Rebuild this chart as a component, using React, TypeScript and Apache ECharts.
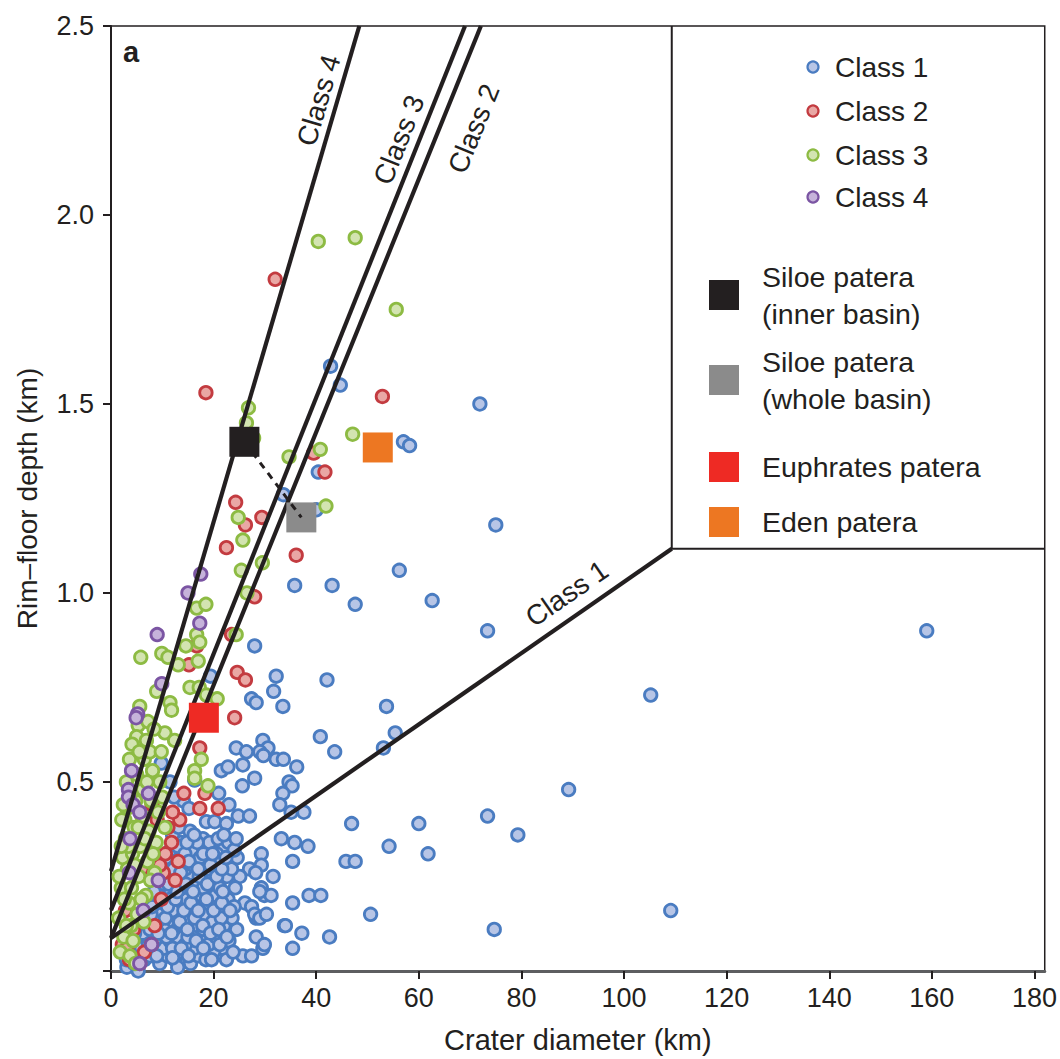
import React, { useEffect, useRef } from "react";
import * as echarts from "echarts";

const FONT = "'Liberation Sans', Arial, Helvetica, sans-serif";
const INK = "#231f20";

const xTicks = [0, 20, 40, 60, 80, 100, 120, 140, 160, 180];
const yTicks = [0, 0.5, 1.0, 1.5, 2.0, 2.5];

// Class 1 craters [diameter km, rim-floor depth km]
const class1: number[][] = [
  [159.0, 0.90], [105.2, 0.73], [109.1, 0.16], [89.2, 0.48], [79.3, 0.36], [73.4, 0.41], [74.7, 0.11],
  [71.9, 1.50], [75.0, 1.18], [57.0, 1.40], [58.2, 1.39], [56.2, 1.06], [62.6, 0.98], [73.4, 0.90],
  [60.0, 0.39], [61.8, 0.31], [54.2, 0.33], [50.6, 0.15], [53.7, 0.70], [55.4, 0.63], [53.1, 0.59],
  [47.6, 0.97], [43.1, 1.02], [42.8, 1.60], [44.7, 1.55], [40.4, 1.32], [42.1, 0.77], [43.6, 0.58],
  [40.8, 0.62], [46.9, 0.39], [45.8, 0.29], [47.6, 0.29], [42.6, 0.09], [35.8, 1.02], [33.6, 1.26],
  [40.0, 1.22], [28.0, 0.86], [19.4, 0.78], [32.2, 0.78], [31.7, 0.74], [27.4, 0.72], [28.3, 0.71],
  [33.5, 0.70], [24.4, 0.59], [26.4, 0.58], [29.6, 0.61], [30.6, 0.59], [29.0, 0.58], [29.7, 0.57],
  [32.2, 0.56], [33.6, 0.56], [36.2, 0.54], [21.5, 0.53], [22.8, 0.54], [25.7, 0.545], [16.3, 0.505],
  [14.1, 0.45], [15.2, 0.43], [18.6, 0.395], [20.2, 0.395], [22.5, 0.39], [24.8, 0.41], [27.0, 0.41],
  [15.4, 0.37], [17.9, 0.35], [13.7, 0.34], [15.7, 0.32], [19.2, 0.34], [20.9, 0.35], [21.8, 0.32],
  [20.6, 0.31], [33.2, 0.35], [35.8, 0.34], [35.4, 0.29], [29.3, 0.31], [31.6, 0.25], [27.0, 0.27],
  [25.1, 0.25], [29.3, 0.28], [28.2, 0.26], [29.3, 0.22], [29.9, 0.20], [26.1, 0.18], [27.4, 0.17],
  [31.2, 0.20], [33.8, 0.12], [35.4, 0.06], [29.6, 0.06], [28.3, 0.14], [25.7, 0.04], [21.8, 0.06],
  [21.2, 0.17], [19.2, 0.16], [17.9, 0.10], [34.7, 0.50], [35.3, 0.49], [33.5, 0.47], [32.9, 0.44],
  [35.1, 0.42], [37.6, 0.42], [38.4, 0.33], [35.4, 0.18], [38.6, 0.20], [40.9, 0.20], [28.0, 0.15],
  [29.0, 0.14], [30.3, 0.15], [34.0, 0.12], [37.2, 0.10], [28.3, 0.09], [29.9, 0.07], [27.4, 0.04],
  [29.0, 0.21], [28.0, 0.51], [25.6, 0.49], [23.0, 0.44], [21.0, 0.47], [9.8, 0.55], [11.5, 0.50],
  [12.3, 0.46],
  [3.1, 0.01], [5.3, 0.00], [3.0, 0.03], [4.5, 0.02], [6.5, 0.03], [8.0, 0.05], [9.5, 0.02], [11.0, 0.04],
  [12.5, 0.03], [14.0, 0.05], [15.5, 0.02], [17.0, 0.04], [18.5, 0.03], [20.0, 0.05], [22.5, 0.03],
  [13.0, 0.01], [10.2, 0.06], [16.2, 0.06], [4.0, 0.08], [5.5, 0.07], [7.0, 0.09], [8.5, 0.08],
  [10.0, 0.10], [11.5, 0.08], [13.0, 0.09], [14.5, 0.07], [16.0, 0.10], [17.5, 0.08], [19.0, 0.07],
  [20.5, 0.09], [23.0, 0.08], [24.5, 0.11], [6.2, 0.10], [12.2, 0.11], [5.0, 0.12], [6.8, 0.14],
  [8.2, 0.12], [9.6, 0.15], [11.0, 0.13], [12.6, 0.15], [14.0, 0.12], [15.4, 0.14], [16.8, 0.12],
  [18.2, 0.15], [19.8, 0.13], [22.0, 0.12], [23.6, 0.14], [10.4, 0.11], [13.5, 0.17], [7.4, 0.17],
  [8.8, 0.19], [10.2, 0.18], [11.8, 0.20], [13.2, 0.18], [14.8, 0.19], [16.2, 0.17], [17.6, 0.20],
  [19.0, 0.18], [20.4, 0.20], [22.8, 0.19], [24.0, 0.17], [12.0, 0.16], [15.8, 0.22], [9.0, 0.23],
  [10.6, 0.22], [12.2, 0.24], [13.8, 0.22], [15.2, 0.25], [16.6, 0.23], [18.0, 0.22], [19.6, 0.24],
  [21.2, 0.22], [22.6, 0.25], [11.5, 0.26], [14.5, 0.27], [10.0, 0.28], [12.8, 0.29], [16.0, 0.28],
  [17.4, 0.30], [18.8, 0.27], [20.2, 0.29], [23.5, 0.27], [24.6, 0.30], [11.6, 0.32], [13.0, 0.33],
  [14.4, 0.31], [16.8, 0.34], [22.9, 0.34], [24.0, 0.32], [7.6, 0.04], [9.0, 0.13], [6.0, 0.05],
  [21.5, 0.14], [18.0, 0.11], [15.0, 0.09], [12.0, 0.06], [7.8, 0.15],
  [4.2, 0.04], [5.9, 0.06], [7.3, 0.07], [8.9, 0.04], [10.8, 0.09], [12.0, 0.035], [13.7, 0.06],
  [15.1, 0.04], [16.6, 0.08], [18.0, 0.06], [19.6, 0.03], [21.2, 0.07], [23.8, 0.05], [4.6, 0.10],
  [6.0, 0.13], [7.6, 0.11], [9.2, 0.10], [10.6, 0.14], [11.8, 0.10], [13.4, 0.13], [14.9, 0.11],
  [16.3, 0.14], [17.9, 0.12], [19.4, 0.10], [21.0, 0.11], [22.6, 0.09], [6.4, 0.16], [8.0, 0.17],
  [9.4, 0.20], [11.0, 0.17], [12.6, 0.19], [14.2, 0.16], [15.6, 0.18], [17.0, 0.16], [18.6, 0.19],
  [20.0, 0.16], [21.6, 0.18], [23.2, 0.16], [8.4, 0.21], [9.8, 0.25], [11.2, 0.23], [12.9, 0.21],
  [14.6, 0.23], [16.0, 0.21], [17.2, 0.25], [18.8, 0.23], [20.6, 0.25], [21.8, 0.21], [24.2, 0.22],
  [10.8, 0.30], [12.2, 0.27], [13.6, 0.26], [15.2, 0.29], [17.0, 0.27], [19.4, 0.28], [21.6, 0.27],
  [22.4, 0.30], [12.0, 0.36], [13.2, 0.38], [14.8, 0.34], [16.2, 0.36], [18.0, 0.31], [19.8, 0.31],
  [22.0, 0.36], [24.4, 0.35],
];

const class2: number[][] = [
  [32.0, 1.83], [18.5, 1.53], [52.9, 1.52], [39.5, 1.37], [41.7, 1.32], [24.3, 1.24], [29.4, 1.20],
  [26.2, 1.18], [22.5, 1.12], [36.1, 1.10], [28.0, 0.99], [16.7, 0.86], [15.2, 0.81], [23.5, 0.89],
  [24.6, 0.79], [26.2, 0.77], [24.1, 0.67], [17.3, 0.59], [18.3, 0.47], [17.3, 0.43], [20.9, 0.43],
  [13.4, 0.40], [11.1, 0.38], [10.2, 0.26], [9.5, 0.28], [13.1, 0.29], [9.2, 0.24],
  [2.2, 0.07], [3.1, 0.06], [3.6, 0.03], [4.4, 0.11], [5.6, 0.02], [6.5, 0.05], [7.9, 0.07], [8.5, 0.12],
  [2.8, 0.16], [9.8, 0.19], [10.6, 0.31], [11.8, 0.34], [12.5, 0.24], [7.0, 0.35], [8.0, 0.44],
  [9.0, 0.40], [12.0, 0.42], [14.2, 0.47], [6.0, 0.27],
];

const class3: number[][] = [
  [40.4, 1.93], [47.6, 1.94], [55.6, 1.75], [26.8, 1.49], [26.4, 1.45], [27.8, 1.41], [47.1, 1.42],
  [34.7, 1.36], [40.8, 1.38], [41.9, 1.23], [24.8, 1.20], [25.7, 1.14], [29.5, 1.08], [25.4, 1.06],
  [26.5, 1.00], [16.7, 0.96], [18.5, 0.97], [16.7, 0.89], [5.8, 0.83], [9.9, 0.84], [11.1, 0.83],
  [14.6, 0.86], [17.3, 0.87], [13.1, 0.81], [17.0, 0.82], [24.4, 0.89], [8.9, 0.74], [15.4, 0.75],
  [17.2, 0.75], [18.6, 0.73], [20.7, 0.72], [11.5, 0.71], [11.8, 0.69], [5.3, 0.65], [5.0, 0.62],
  [10.5, 0.63], [6.9, 0.61], [12.4, 0.61], [17.6, 0.56], [16.3, 0.53], [16.3, 0.51], [18.9, 0.49],
  [3.1, 0.43], [2.7, 0.40],
  [1.5, 0.14], [2.0, 0.22], [2.3, 0.30], [2.8, 0.35], [3.2, 0.27], [3.5, 0.18], [3.9, 0.12], [4.2, 0.31],
  [4.5, 0.38], [4.8, 0.45], [5.0, 0.52], [5.4, 0.25], [5.7, 0.33], [6.0, 0.41], [6.2, 0.48], [6.5, 0.56],
  [6.8, 0.20], [7.1, 0.29], [7.4, 0.37], [7.8, 0.45], [8.1, 0.53], [8.5, 0.26], [8.8, 0.34], [9.2, 0.42],
  [9.5, 0.50], [3.0, 0.50], [3.6, 0.56], [4.1, 0.60], [2.5, 0.09], [4.3, 0.08], [5.1, 0.15], [6.4, 0.13],
  [7.6, 0.58], [10.0, 0.46], [10.5, 0.38], [9.8, 0.58], [3.3, 0.44], [2.1, 0.40], [5.6, 0.70], [7.2, 0.66],
  [8.4, 0.64], [1.8, 0.05], [3.7, 0.04], [4.8, 0.02],
  [2.6, 0.19], [3.4, 0.33], [4.0, 0.22], [4.7, 0.28], [5.3, 0.38], [5.9, 0.19], [6.6, 0.35], [7.0, 0.50],
  [7.7, 0.24], [8.2, 0.31], [2.0, 0.33], [2.4, 0.44], [3.9, 0.47], [5.5, 0.58], [1.6, 0.25], [3.0, 0.12],
];

const class4: number[][] = [
  [17.5, 1.05], [15.0, 1.00], [17.3, 0.92], [9.0, 0.89], [9.9, 0.76], [5.2, 0.68], [4.9, 0.67],
  [3.4, 0.48], [3.4, 0.46], [7.3, 0.47], [4.3, 0.44], [5.6, 0.42], [3.7, 0.35], [3.6, 0.26],
  [6.3, 0.16], [9.2, 0.24], [7.9, 0.07], [5.6, 0.02], [4.0, 0.53],
];

const siloeInner = [[26.0, 1.40]];
const siloeWhole = [[37.1, 1.20]];
const euphrates = [[18.1, 0.67]];
const eden = [[52.0, 1.385]];

const lineClass1 = [[0, 0.087], [109.3, 1.117]];
const lineClass2 = [[0, 0.087], [72.1, 2.5]];
const lineClass3 = [[0, 0.161], [69.0, 2.5]];
const lineClass4 = [[0, 0.264], [48.4, 2.5]];
const legendFrame = [[109.3, 2.5], [109.3, 1.117], [182, 1.117]];

const classNames = ["Class 1", "Class 2", "Class 3", "Class 4"];
const strokeColors = ["#4a7cc1", "#c33b40", "#8dbb43", "#7b55a3"];
const fillColors = ["#b7c5e6", "#e9a8a5", "#d3e4b1", "#c6b3da"];

function scatter(name: string, data: number[][], i: number) {
  return {
    type: "scatter",
    name,
    data,
    symbol: "circle",
    symbolSize: 12.5,
    silent: true,
    z: 2 + i,
    itemStyle: { color: fillColors[i], borderColor: strokeColors[i], borderWidth: 2.8, opacity: 1 },
  };
}

function boundary(name: string, data: number[][], width = 4.2) {
  return {
    type: "line",
    name,
    data,
    symbol: "none",
    silent: true,
    z: 6,
    lineStyle: { color: INK, width },
  };
}

function square(name: string, data: number[][], color: string, z: number) {
  return {
    type: "scatter",
    name,
    data,
    symbol: "rect",
    symbolSize: 30,
    silent: true,
    z,
    itemStyle: { color, opacity: 1 },
  };
}

export default function App() {
  const ref = useRef<HTMLDivElement>(null);
  useEffect(() => {
    const chart = echarts.init(ref.current!, null, { renderer: "svg" });
    chart.setOption({
      animation: false,
      backgroundColor: "#ffffff",
      grid: { left: 111, top: 26, right: 14, bottom: 86, show: true, borderColor: INK, borderWidth: 1.5 },
      xAxis: {
        type: "value",
        min: 0,
        max: 182,
        interval: 20,
        name: "Crater diameter (km)",
        nameLocation: "middle",
        nameGap: 54,
        nameTextStyle: { fontSize: 29, color: INK, fontFamily: FONT },
        axisLine: { show: true, onZero: false, lineStyle: { color: "#5d5e60", width: 3 } },
        axisTick: { show: true, length: 8, customValues: xTicks, lineStyle: { color: INK, width: 2 } },
        axisLabel: { customValues: xTicks, margin: 13, fontSize: 27, color: INK, fontFamily: FONT },
        splitLine: { show: false },
      },
      yAxis: {
        type: "value",
        min: 0,
        max: 2.5,
        interval: 0.5,
        name: "Rim–floor depth (km)",
        nameLocation: "middle",
        nameGap: 70,
        nameTextStyle: { fontSize: 28, color: INK, fontFamily: FONT },
        axisLine: { show: true, onZero: false, lineStyle: { color: INK, width: 2 } },
        axisTick: { show: true, length: 8, customValues: yTicks, lineStyle: { color: INK, width: 2 } },
        axisLabel: {
          customValues: yTicks,
          margin: 17,
          fontSize: 27,
          color: INK,
          fontFamily: FONT,
          formatter: (v: number) => (v === 0 ? "" : v.toFixed(1)),
        },
        splitLine: { show: false },
      },
      series: [
        scatter("Class 1", class1, 0),
        scatter("Class 2", class2, 1),
        scatter("Class 3", class3, 2),
        scatter("Class 4", class4, 3),
        boundary("Class 1 line", lineClass1),
        boundary("Class 2 line", lineClass2),
        boundary("Class 3 line", lineClass3),
        boundary("Class 4 line", lineClass4),
        boundary("legend frame", legendFrame, 2),
        square("Euphrates patera", euphrates, "#ee2a24", 8),
        square("Eden patera", eden, "#ed7722", 8),
        square("Siloe patera (whole basin)", siloeWhole, "#8b8b8b", 8),
        {
          type: "line",
          name: "Siloe link",
          data: [siloeInner[0], siloeWhole[0]],
          symbol: "none",
          silent: true,
          z: 9,
          lineStyle: { color: INK, width: 3, type: [7, 6] },
        },
        square("Siloe patera (inner basin)", siloeInner, INK, 10),
      ],
    });

    const px = (p: number[]) => chart.convertToPixel({ gridIndex: 0 }, p) as number[];
    const onLineAtY = (line: number[][], y: number) => {
      const [a, b] = line;
      return [a[0] + ((y - a[1]) * (b[0] - a[0])) / (b[1] - a[1]), y];
    };
    const onLineAtX = (line: number[][], x: number) => {
      const [a, b] = line;
      return [x, a[1] + ((x - a[0]) * (b[1] - a[1])) / (b[0] - a[0])];
    };
    const lineLabel = (text: string, line: number[][], at: number[], side: number, dist: number) => {
      const a = px(line[0]);
      const b = px(line[1]);
      let dx = b[0] - a[0];
      let dy = b[1] - a[1];
      const L = Math.hypot(dx, dy);
      dx /= L;
      dy /= L;
      const p = px(at);
      const nx = dy;
      const ny = -dx;
      return {
        type: "text",
        x: p[0] + side * nx * dist,
        y: p[1] + side * ny * dist,
        rotation: Math.atan2(-dy, dx),
        z: 30,
        style: { text, fontSize: 28, fontFamily: FONT, fill: INK, align: "center", verticalAlign: "middle" },
      };
    };

    const legendEls: any[] = [];
    const dotYs = [67, 111, 155, 197];
    classNames.forEach((n, i) => {
      legendEls.push({
        type: "circle",
        shape: { cx: 813, cy: dotYs[i], r: 5.5 },
        style: { fill: fillColors[i], stroke: strokeColors[i], lineWidth: 2.2 },
        z: 30,
      });
      legendEls.push({
        type: "text",
        x: 835,
        y: dotYs[i],
        z: 30,
        style: { text: n, fontSize: 28, fontFamily: FONT, fill: INK, align: "left", verticalAlign: "middle" },
      });
    });
    const sq = [
      { c: INK, y: 295, t: "Siloe patera\n(inner basin)" },
      { c: "#8b8b8b", y: 380, t: "Siloe patera\n(whole basin)" },
      { c: "#ee2a24", y: 467, t: "Euphrates patera" },
      { c: "#ed7722", y: 522, t: "Eden patera" },
    ];
    sq.forEach((s) => {
      legendEls.push({
        type: "rect",
        shape: { x: 709, y: s.y - 15, width: 30, height: 30 },
        style: { fill: s.c },
        z: 30,
      });
      legendEls.push({
        type: "text",
        x: 762,
        y: s.y,
        z: 30,
        style: {
          text: s.t,
          fontSize: 28.5,
          lineHeight: 37,
          fontFamily: FONT,
          fill: INK,
          align: "left",
          verticalAlign: "middle",
        },
      });
    });

    chart.setOption({
      graphic: [
        lineLabel("Class 4", lineClass4, onLineAtY(lineClass4, 2.29), 1, 18),
        lineLabel("Class 3", lineClass3, onLineAtY(lineClass3, 2.18), 1, 19),
        lineLabel("Class 2", lineClass2, onLineAtY(lineClass2, 2.26), -1, 32),
        lineLabel("Class 1", lineClass1, onLineAtX(lineClass1, 91.4), 1, 23),
        {
          type: "text",
          x: 123,
          y: 52,
          z: 30,
          style: { text: "a", fontSize: 29, fontWeight: "bold", fontFamily: FONT, fill: INK, align: "left", verticalAlign: "middle" },
        },
        ...legendEls,
      ],
    });

    return () => chart.dispose();
  }, []);

  return (
    <div
      ref={ref}
      style={{ position: "absolute", left: 0, top: 0, width: 1060, height: 1059, background: "#fff" }}
    />
  );
}
